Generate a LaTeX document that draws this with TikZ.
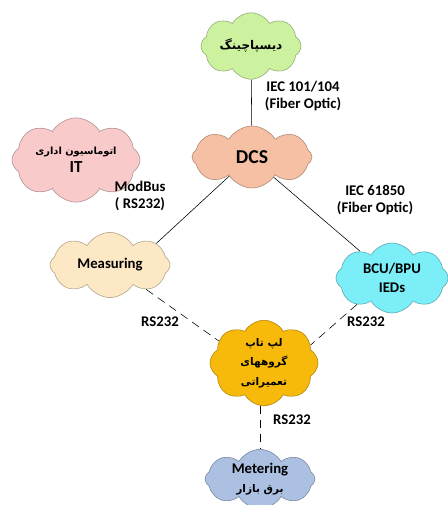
\documentclass[tikz,border=0pt]{standalone}
\usepackage{fontspec}
\setmainfont{Carlito}
\newfontfamily\arabicfont[Script=Arabic]{DejaVu Sans}
\TeXXeTstate=1
\usetikzlibrary{shapes.symbols}

\definecolor{dispgreen}{RGB}{204,242,160}
\definecolor{dcspeach}{RGB}{246,192,164}
\definecolor{itpink}{RGB}{248,202,202}
\definecolor{meastan}{RGB}{252,232,196}
\definecolor{bcucyan}{RGB}{124,238,248}
\definecolor{lapgold}{RGB}{248,186,10}
\definecolor{meterblue}{RGB}{172,192,226}

\newcommand{\fa}[2][8]{{\arabicfont\bfseries\fontsize{#1}{#1}\selectfont\beginR #2\endR}}

\begin{document}
\begin{tikzpicture}[x=0.025cm,y=-0.025cm,
    cl/.style={cloud,cloud puffs=8,cloud puff arc=120,inner sep=0pt,
      draw=#1!70!black,fill=#1,align=center,font=\bfseries\fontsize{10.5}{13}\selectfont},
    lbl/.style={align=center,font=\bfseries\fontsize{10.5}{12.5}\selectfont},
    rs/.style={dash pattern=on 6pt off 4pt}]
    \useasboundingbox (0,0) rectangle (447,505);

    \node[cl=dispgreen,aspect=1.75,minimum width=2.5cm,minimum height=1.45cm]  (disp)   at (251,46)  {\fa[8.5]{دیسپاچینگ}};
    \node[cl=dcspeach,aspect=1.95,minimum width=3cm,minimum height=1.55cm]     (dcs)    at (252,157) {\fontsize{14}{16}\selectfont DCS};
    \node[cl=itpink,aspect=1.8,minimum width=3.2cm,minimum height=1.8cm]       (it)     at (76,160)  {\fa[7]{اتوماسیون اداری}\\\fontsize{12}{14}\selectfont IT};
    \node[cl=meastan,aspect=1.9,minimum width=3cm,minimum height=1.6cm]        (meas)   at (110,265) {Measuring};
    \node[cl=bcucyan,aspect=1.6,minimum width=2.8cm,minimum height=1.75cm]     (bcu)    at (392,278) {BCU/BPU\\IEDs};
    \node[cl=lapgold,aspect=1.3,minimum width=2.7cm,minimum height=2.05cm,
          font=\fontsize{10}{14}\selectfont]                                    (laptop) at (264,363) {\fa[7.5]{لپ تاپ}\\\fa[7.5]{گروههای}\\\fa[7.5]{تعمیراتی}};
    \node[cl=meterblue,aspect=1.9,minimum width=2.75cm,minimum height=1.45cm]  (meter)  at (260,479) {Metering\\\fa[7.5]{برق بازار}};

    \node[lbl] (l1) at (303,96)  {IEC 101/104\\(Fiber Optic)};
    \node[lbl] (l2) at (140,196) {ModBus\\( RS232)};
    \node[lbl] (l3) at (375,200) {IEC 61850\\(Fiber Optic)};
    \node[lbl] (l4) at (160,322) {RS232};
    \node[lbl] (l5) at (366,322) {RS232};
    \node[lbl] (l6) at (292,420) {RS232};

    \path[draw]
    (disp) edge (dcs)
    (dcs.220) edge (meas.25)
    (dcs.-43) edge (bcu.140)
    ;
    \path[draw,rs]
    (meas.-34) edge (laptop.154)
    (bcu.-143) edge (laptop.21)
    (laptop.-95) edge (laptop.-95 |- meter.north)
    ;
\end{tikzpicture}
\end{document}
